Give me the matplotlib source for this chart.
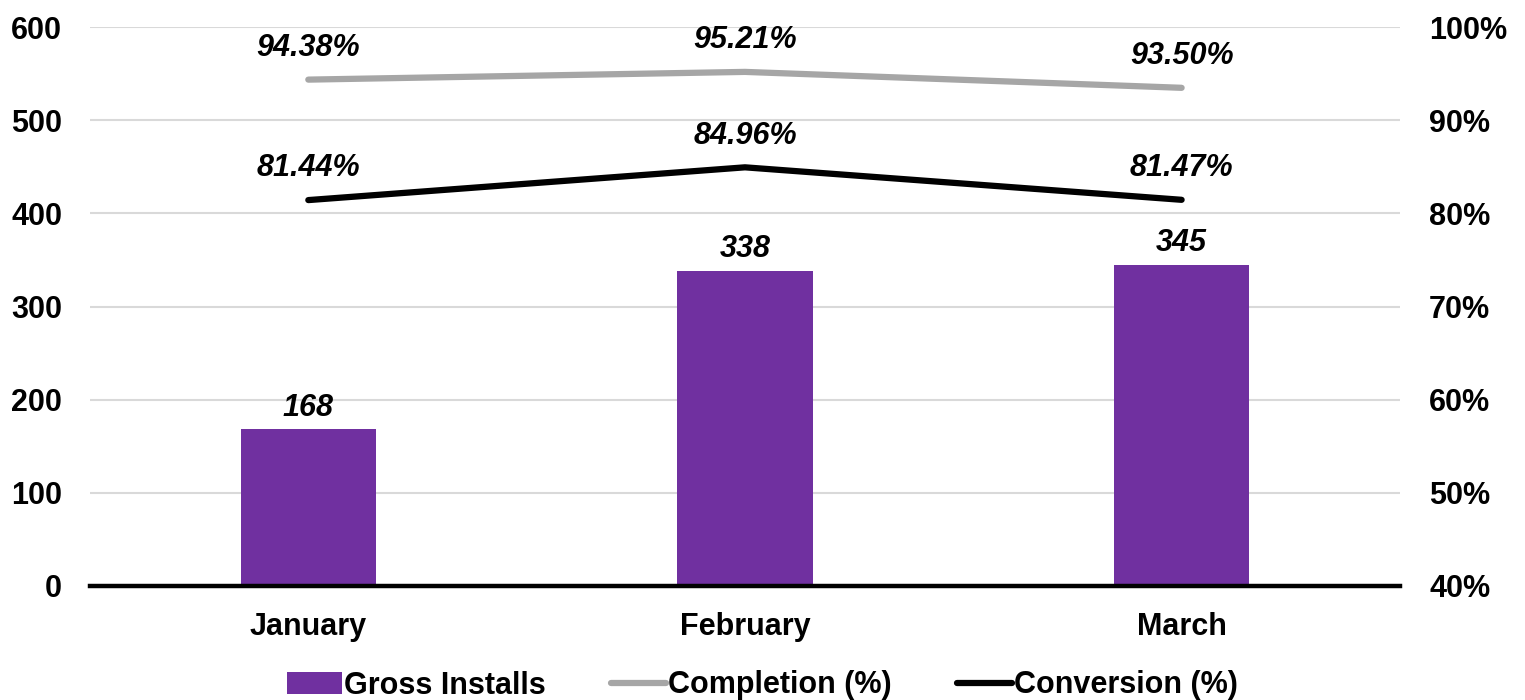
import numpy as np
import matplotlib.pyplot as plt

plt.rcParams.update({
    "font.family": ["Liberation Sans", "DejaVu Sans"],
    "font.weight": "bold",
    "font.size": 22,
})

months = ["January", "February", "March"]
gross_installs = [168, 338, 345]
completion = [94.38, 95.21, 93.50]
conversion = [81.44, 84.96, 81.47]

purple = "#7030a0"
grey = "#a6a6a6"

fig = plt.figure(figsize=(15.25, 7), dpi=100)
ax = fig.add_axes([0.059, 0.163, 0.859, 0.798])
ax2 = ax.twinx()

x = np.arange(len(months))
bars = ax.bar(x, gross_installs, width=0.31, color=purple, label="Gross Installs", zorder=2)
for xi, v in zip(x, gross_installs):
    ax.annotate(f"{v}", (xi, v), xytext=(0, 5), textcoords="offset points",
                ha="center", va="bottom", style="italic", fontweight="bold", fontsize=22)

ax.set_ylim(0, 600)
ax.set_xlim(-0.5, 2.5)
ax.set_yticks(range(0, 601, 100))
ax.set_xticks(x)
ax.set_xticklabels(months)
ax.grid(axis="y", color="#d9d9d9", linewidth=1.5, zorder=0)
ax.set_axisbelow(True)
ax.axhline(0, color="black", linewidth=3.2, zorder=3, clip_on=False)
for s in ax.spines.values():
    s.set_visible(False)
for s in ax2.spines.values():
    s.set_visible(False)
ax.tick_params(axis="y", length=0, pad=20)
ax.tick_params(axis="x", length=0, pad=19)

l1, = ax2.plot(x, completion, color=grey, linewidth=4.5, solid_capstyle="round", label="Completion (%)")
l2, = ax2.plot(x, conversion, color="black", linewidth=4.5, solid_capstyle="round", label="Conversion (%)")
for series in (completion, conversion):
    for xi, v in zip(x, series):
        ax2.annotate(f"{v:.2f}%", (xi, v), xytext=(0, 12), textcoords="offset points",
                     ha="center", va="bottom", style="italic", fontweight="bold", fontsize=22)

ax2.set_ylim(40, 100)
ax2.set_yticks(range(40, 101, 10))
ax2.set_yticklabels([f"{t}%" for t in range(40, 101, 10)])
ax2.tick_params(axis="y", length=0, pad=21)

fig.legend(handles=[bars, l1, l2], loc="lower center", ncol=3, frameon=False,
           bbox_to_anchor=(0.5, -0.04), handlelength=1.8, handletextpad=0.05,
           columnspacing=2.15, fontsize=22)

fig.savefig("out.png", dpi=100)
